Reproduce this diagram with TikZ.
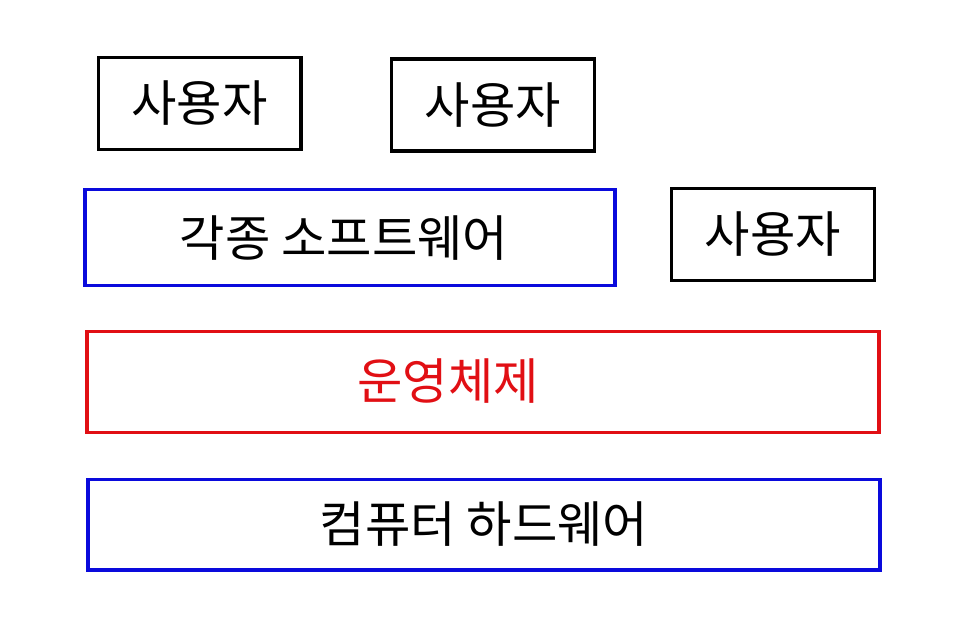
\documentclass[tikz,border=0pt]{standalone}
\usepackage{fontspec}
\usepackage{tikz}
\usetikzlibrary{positioning}
\newfontfamily\kofont{Noto Sans CJK KR}
\definecolor{layerblue}{RGB}{10,10,220}
\definecolor{layerred}{RGB}{225,15,20}
\tikzset{
  base/.style={font=\kofont\fontsize{37}{42}\selectfont, align=center, inner sep=0pt, text=black},
  box/.style={base, rectangle, draw=black, line width=2.5pt},
  userbox/.style={box, minimum width=152pt, minimum height=69pt},
  swbox/.style={box, draw=layerblue},
  osbox/.style={box, draw=layerred, text=layerred},
}

\begin{document}
\begin{tikzpicture}[x=0.75pt,y=-0.75pt]
  \useasboundingbox (0,0) rectangle (961,636);
  % users
  \node[userbox] (user1) at (199.5,103.5) {사용자};
  \node[userbox] (user2) at (493,105) {사용자};
  \node[userbox] (user3) at (773,234.5) {사용자};
  % layers
  \node[swbox,minimum width=397.5pt,minimum height=72pt] (sw) at (350,237.5) {};
  \node[base] (swlabel) at (344,238) {각종 소프트웨어};
  \node[osbox,minimum width=594pt,minimum height=76pt] (os) at (483,382) {};
  \node[base,text=layerred] (oslabel) at (448,381) {운영체제};
  \node[swbox,minimum width=594pt,minimum height=68pt] (hw) at (484,524.5) {컴퓨터 하드웨어};
\end{tikzpicture}
\end{document}
